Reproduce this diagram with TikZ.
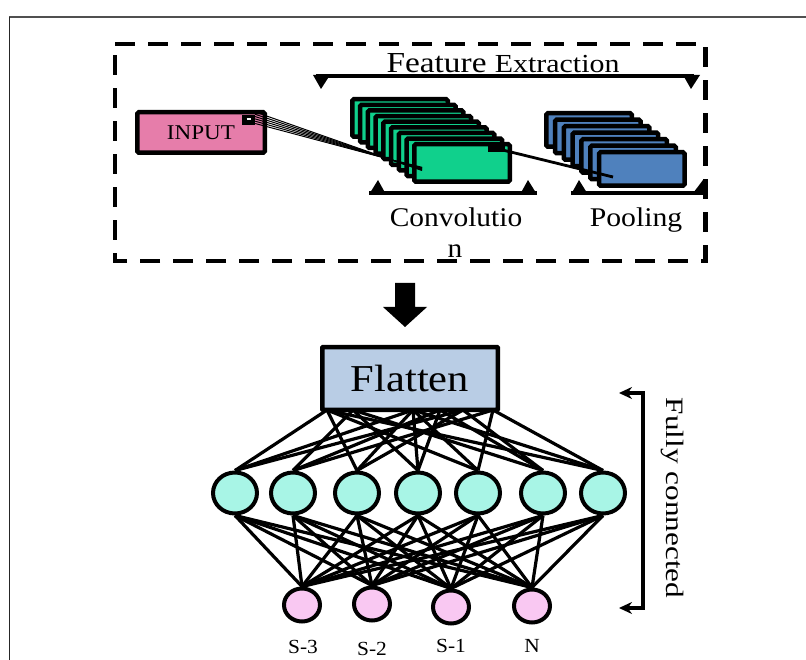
\documentclass[tikz,border=0pt]{standalone}
\usepackage{fontspec}
\setmainfont{Liberation Serif}
\usetikzlibrary{shapes.geometric,arrows.meta,backgrounds}
\definecolor{pinkin}{HTML}{E67DAA}
\definecolor{convg}{HTML}{10D08C}
\definecolor{poolb}{HTML}{4F81BD}
\definecolor{flatb}{HTML}{B9CDE5}
\definecolor{hidc}{HTML}{A8F5E6}
\definecolor{outc}{HTML}{F9C8F2}
\definecolor{framec}{HTML}{505050}
\newcommand{\stxt}[3]{\scalebox{#1}[1]{\fontsize{#2}{#2}\selectfont #3}}
\begin{document}
\begin{tikzpicture}[x=1pt,y=-1pt,
  thickbox/.style={draw=black,line width=4.5pt,rounded corners=1.5pt,inner sep=0pt},
  convbox/.style={thickbox,fill=convg,minimum width=95.5pt,minimum height=37.5pt,anchor=north west},
  poolbox/.style={thickbox,fill=poolb,minimum width=85.5pt,minimum height=33.5pt,anchor=north west},
  hid/.style={ellipse,draw=black,line width=4pt,fill=hidc,minimum width=44pt,minimum height=41pt,inner sep=0pt},
  outn/.style={ellipse,draw=black,line width=4pt,fill=outc,minimum width=36pt,minimum height=33pt,inner sep=0pt},
  port/.style={fill=black,inner sep=0pt},
  link/.style={line width=3.2pt,black},
  bracketline/.style={line width=3.8pt},
  lbl/.style={inner sep=0pt,anchor=base},
]
\useasboundingbox (0,0) rectangle (806,660);
% outer frame
\draw[framec,line width=2.2pt] (9,17) -- (806,17);
\draw[black!85,line width=1.8pt] (9.5,17) -- (9.5,660);
% dashed feature-extraction box
\draw[line width=4.6pt,dash pattern=on 20pt off 13pt] (115,44) -- (705.5,44) -- (705.5,261) -- (115,261) -- cycle;
% Feature Extraction label and bracket
\node[lbl] (fe) at (503,73) {\scalebox{1.15}[1]{\fontsize{29}{29}\selectfont Feature \fontsize{26}{26}\selectfont Extraction}};
\coordinate (feL) at (316,76);
\coordinate (feR) at (694,76);
\draw[bracketline] (feL) -- (feR);
\fill (313,75) -- (330,75) -- (321,89) -- cycle;
\fill (683,75) -- (700,75) -- (691,89) -- cycle;
% INPUT
\node[thickbox,fill=pinkin,minimum width=127.5pt,minimum height=40.5pt] (input) at (201,132.5) {\stxt{1.1}{21}{INPUT}};
\node[port,minimum width=13pt,minimum height=10pt] (inport) at (248.5,120) {};
\draw[white,line width=1.2pt] (246.5,119) -- (250.5,119);
% convolution stack
\foreach \i in {0,...,8} \node[convbox] (cv\i) at ({350+7.75*\i},{97+5.625*\i}) {};
\node[port,minimum width=17pt,minimum height=7pt] (cvport) at (496.5,148.5) {};
% pooling stack
\foreach \i in {0,...,6} \node[poolbox] (pl\i) at ({544+8.8*\i},{111+6.5*\i}) {};
% links input -> conv -> pool
\coordinate (cvin) at (422,168);
\coordinate (plin) at (613,177);
\foreach \k in {0,...,5} \draw[line width=1pt] ([yshift={-3.5pt+2.3pt*\k}]inport.east) -- ([yshift={-0.5pt*\k}]cvin);
\draw[line width=2.4pt] (398,162) -- (cvin);
\draw[line width=2.8pt] (cvport.center) -- (plin);
% conv / pool brackets
\coordinate (cbL) at (369,193);
\coordinate (cbR) at (537,193);
\draw[bracketline] (cbL) -- (cbR);
\fill (369,194.5) -- (386,194.5) -- (378,180) -- cycle;
\fill (520,194.5) -- (537,194.5) -- (528,180) -- cycle;
\coordinate (pbL) at (571,193);
\coordinate (pbR) at (705.5,193);
\draw[bracketline] (pbL) -- (pbR);
\fill (571,194.5) -- (588,194.5) -- (579,180) -- cycle;
\fill (692,194.5) -- (707.5,194.5) -- (703,180) -- cycle;
% labels
\node[lbl] (convl) at (456,227) {\stxt{1.09}{27}{Convolutio}};
\node[lbl] (convn) at (455,258) {\stxt{1.09}{27}{n}};
\node[lbl] (pooll) at (636,227) {\stxt{1.1}{27}{Pooling}};
% big down arrow
\fill (395,283) -- (415,283) -- (415,307) -- (427,307) -- (405,327) -- (383,307) -- (395,307) -- cycle;
% Flatten
\node[thickbox,fill=flatb,minimum width=175.5pt,minimum height=62.5pt,rounded corners=0.5pt] (flat) at (410,378.5) {\stxt{1.12}{38}{Flatten}};
% hidden layer
\foreach \n/\x in {1/235,2/293,3/357,4/418,5/478,6/543,7/603}
  \node[hid] (h\n) at (\x,493) {};
% output layer
\node[outn] (o1) at (302,605) {};
\node[outn] (o2) at (372,604) {};
\node[outn] (o3) at (451,607) {};
\node[outn] (o4) at (532,606) {};
\node[lbl] (l1) at (303,653) {\stxt{1.07}{20}{S-3}};
\node[lbl] (l2) at (372,655) {\stxt{1.07}{20}{S-2}};
\node[lbl] (l3) at (451,652) {\stxt{1.07}{20}{S-1}};
\node[lbl] (l4) at (532,652) {\stxt{1.07}{20}{N}};
% flatten connection points
\coordinate (f1) at (327,410);
\coordinate (f2) at (353,410);
\coordinate (f3) at (413,410);
\coordinate (f4) at (440,410);
\coordinate (f5) at (463,410);
\coordinate (f6) at (493,410);
\begin{pgfonlayer}{background}
\fill[white] (0,0) rectangle (806,660);
\foreach \h/\a/\b/\c in {1/1/3/5,2/2/4/6,3/1/3/5,4/2/3/4,5/1/3/6,6/2/4/5,7/1/3/6}{
  \draw[link] (f\a) -- (h\h.north);
  \draw[link] (f\b) -- (h\h.north);
  \draw[link] (f\c) -- (h\h.north);
}
\foreach \h in {1,...,7}
  \foreach \o in {1,...,4}
    \draw[link] (h\h.south) -- (o\o.north);
\end{pgfonlayer}
% Fully connected bracket
\coordinate (fcTa) at (619,393);
\coordinate (fcTb) at (643,393);
\coordinate (fcBb) at (643,608);
\coordinate (fcBa) at (619,608);
\draw[line width=3.6pt,{Stealth[length=13pt,width=12pt]}-{Stealth[length=13pt,width=12pt]}] (fcTa) -- (fcTb) -- (fcBb) -- (fcBa);
\node[inner sep=0pt,rotate=-90] (fc) at (672,498) {\stxt{1.25}{25}{Fully connected}};
\end{tikzpicture}
\end{document}
